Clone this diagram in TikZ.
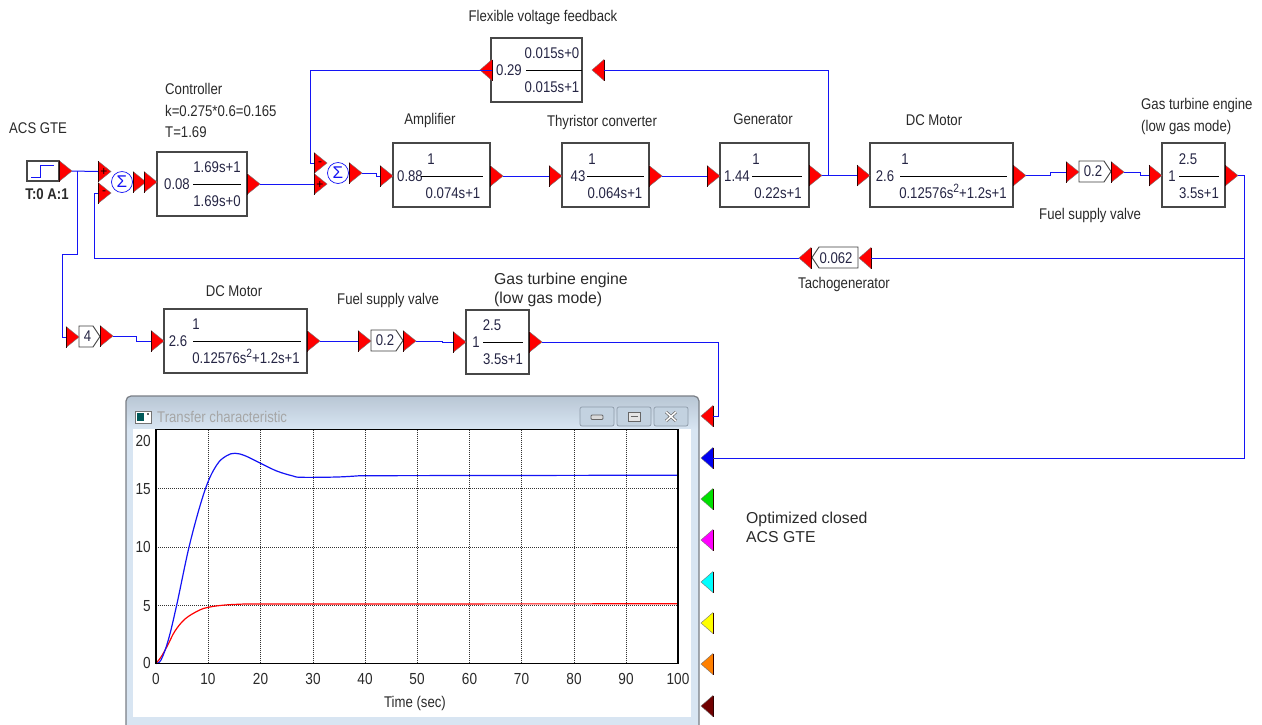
\documentclass[tikz,border=0pt]{standalone}
\usepackage{fontspec}
\setmainfont{Liberation Sans}
\newfontfamily\cond[FakeStretch=0.85]{Liberation Sans}
\usetikzlibrary{calc}
\definecolor{wireblue}{HTML}{1414F5}
\definecolor{txt}{HTML}{2A2A2A}
\definecolor{winedge}{HTML}{7A7F86}
\definecolor{winbg}{HTML}{D8E5F2}
\definecolor{wintop}{HTML}{B8C6D4}
\definecolor{btn}{HTML}{C3D2E0}
\definecolor{btnedge}{HTML}{8D9AA8}
\definecolor{pred}{HTML}{FF0000}
\definecolor{pblue}{HTML}{0000F0}
\definecolor{pgreen}{HTML}{00E000}
\definecolor{pmag}{HTML}{FF00FF}
\definecolor{pcyan}{HTML}{00FFFF}
\definecolor{pyel}{HTML}{FFFF00}
\definecolor{pora}{HTML}{FF8000}
\definecolor{pmar}{HTML}{700000}
\definecolor{basedark}{HTML}{300000}
\tikzset{
  wire/.style={draw=wireblue,line width=1pt},
  blk/.style={draw=black!72,line width=1.1pt,fill=white,inner sep=0pt,rectangle},
  lab/.style={font=\cond\fontsize{15.5}{16}\selectfont,text=txt,inner sep=0pt,text height=10.5pt,text depth=0pt},
  labw/.style={font=\fontsize{15.8}{16}\selectfont,text=txt,inner sep=0pt,text height=10.5pt,text depth=0pt},
  tick/.style={font=\cond\fontsize{16}{16}\selectfont,text=txt,inner sep=0pt,text height=10.5pt,text depth=0pt},
  val/.style={font=\cond\fontsize{15.5}{16}\selectfont,text=txt!88!blue,inner sep=0pt,text height=10.5pt,text depth=0pt},
  fracline/.style={draw=black,line width=0.9pt},
  griddot/.style={draw=black!80,line width=1pt,dash pattern=on 1pt off 1pt},
  frameplot/.style={draw=black,line width=1.2pt},
  sumring/.style={circle,draw=wireblue,fill=white,line width=0.7pt,minimum size=21pt,inner sep=0pt,text=wireblue,font=\fontsize{17}{17}\selectfont},
  winbtn/.style={draw=btnedge,fill=btn,line width=0.7pt,rounded corners=2pt},
  sgn/.style={font=\fontsize{12}{12}\selectfont,inner sep=0pt,text=black}
}
% right-pointing port: name, x of base, y of centre
\newcommand\portR[3]{%
  \fill[pred] (#2,#3-10.5) -- (#2+13,#3) -- (#2,#3+10.5) -- cycle;
  \draw[black!55,line width=0.4pt] (#2,#3-10.5) -- (#2+13,#3) -- (#2,#3+10.5);
  \draw[basedark,line width=0.8pt] (#2,#3-10.5) -- (#2,#3+10.5);
  \coordinate (#1) at (#2+13,#3);
  \coordinate (#1in) at (#2,#3);}
% left-pointing port: name, x of tip, y of centre, colour
\newcommand\portL[4]{%
  \fill[#4] (#2+12,#3-10.5) -- (#2,#3) -- (#2+12,#3+10.5) -- cycle;
  \draw[black!55,line width=0.4pt] (#2+12,#3-10.5) -- (#2,#3) -- (#2+12,#3+10.5);
  \draw[basedark,line width=0.8pt] (#2+12,#3-10.5) -- (#2+12,#3+10.5);
  \coordinate (#1) at (#2,#3);
  \coordinate (#1in) at (#2+12,#3);}
% block: name x1 y1 x2 y2
\newcommand\blockbox[5]{%
  \node[blk,minimum width={(#4-#2)*1pt},minimum height={(#5-#3)*1pt}] (#1) at ({(#2+#4)/2},{(#3+#5)/2}) {};}
% transfer text: name, gain x, gain, line x1, line x2, y of line, num x, num, den x, den
\newcommand\tf[9]{%
  \node[val] (#1g) at (#2,#6+0.5) {#3};
  \draw[fracline] (#4,#6) -- (#5,#6);
  \node[val] (#1n) at (#7,#6-16.5) {#8};
  \node[val] (#1d) at (#9,#6+17) {\tfden};}
\newcommand\gainR[6]{% name x1 x2 y1 y2 text
  \draw[black!75,line width=0.9pt,fill=white] (#2,#4) -- (#3-7,#4) -- (#3,{(#4+#5)/2}) -- (#3-7,#5) -- (#2,#5) -- cycle;
  \node[val] (#1) at ({(#2+#3)/2-2},{(#4+#5)/2}) {#6};}
\newcommand\sq{\raisebox{6pt}{\fontsize{12}{12}\selectfont 2}}
\begin{document}
\begin{tikzpicture}[x=1pt,y=-1pt]
\useasboundingbox (0,0) rectangle (1262,724);
\fill[white] (0,0) rectangle (1262,724);

% ---------- plot window
\begin{scope}
\clip (0,0) rectangle (1262,724);
\fill[winbg,rounded corners=5pt] (126,760) -- (126,396) -- (699,396) -- (699,760) -- cycle;
\begin{scope}
\clip[rounded corners=5pt] (126,760) -- (126,396) -- (699,396) -- (699,760) -- cycle;
\shade[top color=wintop,bottom color=winbg] (126,396) rectangle (699,429);
\end{scope}
\draw[winedge,line width=1.2pt,rounded corners=5pt] (126,760) -- (126,396) -- (699,396) -- (699,760);
\fill[white] (133,429) rectangle (691,717);
\end{scope}
% title bar
\draw[black!55,fill=white,line width=0.8pt] (135,411) rectangle (151,423);
\fill[teal!70!black] (137,413) rectangle (144,421);
\fill[black!60] (147,413) rectangle (149,415);
\node[lab,anchor=west,text=black!35] (wintitle) at (157,417) {Transfer characteristic};
\draw[winbtn] (580,407) rectangle (614,426);
\draw[winbtn] (617,407) rectangle (651,426);
\draw[winbtn] (654,407) rectangle (688,426);
\draw[black!60,fill=black!15,line width=0.8pt,rounded corners=1pt] (591,415) rectangle (603,419.5);
\draw[black!60,fill=black!10,line width=0.8pt] (628,412) rectangle (640,421);
\draw[black!60,line width=1pt] (630.5,416) -- (637.5,416);
\draw[black!55,line width=3pt] (666,412) -- (676,421) (676,412) -- (666,421);
\draw[white,line width=1.4pt] (666,412) -- (676,421) (676,412) -- (666,421);

% plot grid
\foreach \gx in {208,260.5,313,365,417,469.5,521.5,574,626}
  \draw[griddot] (\gx,429.5) -- (\gx,663);
\foreach \gy in {488,547,605}
  \draw[griddot] (156,\gy) -- (678,\gy);
% curves
\draw[pred,line width=1.2pt] plot[smooth,tension=0.6] coordinates {(156,663.5) (161.7,656) (168.3,644) (175,631) (185,619) (198.3,610.7) (208.3,607.3) (225,605) (245,604)} -- (678,603.8);
\draw[wireblue,line width=1.2pt] plot[smooth,tension=0.6] coordinates {(156,663.5) (161,660) (168.3,640) (176.7,605) (190,543) (205,490) (216.7,465) (226.7,455.7) (235,453.3) (245,455.7) (260,463) (276.7,471) (293,476) (301.7,477.3) (337,477) (360,475.7)} -- (678,475.2);
\draw[frameplot] (156,429.5) rectangle (678,663.5);
% axis ticks
\node[tick,anchor=east] (yt20) at (151,441) {20};
\node[tick,anchor=east] (yt15) at (151,489) {15};
\node[tick,anchor=east] (yt10) at (151,547) {10};
\node[tick,anchor=east] (yt5) at (151,606) {5};
\node[tick,anchor=east] (yt0) at (151,663) {0};
\node[tick] (xt0) at (156,679) {0};
\node[tick] (xt10) at (208,679) {10};
\node[tick] (xt20) at (260.5,679) {20};
\node[tick] (xt30) at (313,679) {30};
\node[tick] (xt40) at (365,679) {40};
\node[tick] (xt50) at (417,679) {50};
\node[tick] (xt60) at (469.5,679) {60};
\node[tick] (xt70) at (521.5,679) {70};
\node[tick] (xt80) at (574,679) {80};
\node[tick] (xt90) at (626,679) {90};
\node[tick] (xt100) at (678,679) {100};
\node[lab] (xaxis) at (415,702) {Time (sec)};

% ---------- scope inputs
\portL{scA}{701}{416}{pred}
\portL{scB}{701}{458}{pblue}
\portL{scC}{701}{499}{pgreen}
\portL{scD}{701}{540}{pmag}
\portL{scE}{701}{582}{pcyan}
\portL{scF}{701}{623}{pyel}
\portL{scG}{701}{664}{pora}
\portL{scH}{701}{706}{pmar}

% ---------- blocks
\blockbox{stepb}{27}{161}{59}{181}
\draw[wireblue,line width=1pt] (31,177) -- (40,177) -- (40,165.5) -- (54,165.5);
\blockbox{ctrl}{157}{152}{247}{216}
\blockbox{fb}{491}{38}{582}{102}
\blockbox{amp}{393}{143}{490}{207}
\blockbox{thy}{562}{143}{649}{207}
\blockbox{gen}{720}{143}{809}{207}
\blockbox{dcm}{870}{143}{1013}{207}
\blockbox{gte}{1162}{143}{1225}{207}
\blockbox{dcmb}{164}{309}{307}{373}
\blockbox{gteb}{466}{310}{529}{374}

% block text
\def\tfden{1.69s+0}\tf{ctrl}{177}{0.08}{193}{241}{184}{217}{1.69s+1}{217}
\def\tfden{0.015s+1}\tf{fb}{509}{0.29}{526}{582}{70}{552}{0.015s+0}{552}
\def\tfden{0.074s+1}\tf{amp}{410}{0.88}{421}{483}{176}{431}{1}{453}
\def\tfden{0.064s+1}\tf{thy}{578}{43}{587}{644}{176}{592}{1}{615}
\def\tfden{0.22s+1}\tf{gen}{737}{1.44}{752}{802}{176}{756}{1}{778}
\def\tfden{0.12576s\sq+1.2s+1}\tf{dcm}{885}{2.6}{900}{1007}{176}{905}{1}{953}
\def\tfden{3.5s+1}\tf{gte}{1172}{1}{1179}{1219}{176}{1188}{2.5}{1199}
\def\tfden{0.12576s\sq+1.2s+1}\tf{dcmb}{178}{2.6}{193}{301}{341}{196}{1}{246}
\def\tfden{3.5s+1}\tf{gteb}{476}{1}{483}{523}{342}{492}{2.5}{503}

% gains
\gainR{gA}{1079}{1111}{161}{182}{0.2}
\gainR{gB}{79}{100}{326}{347}{4}
\gainR{gC}{371}{403}{330}{351}{0.2}
\draw[black!75,line width=0.9pt,fill=white] (858,247) -- (819,247) -- (812,257.5) -- (819,268) -- (858,268) -- cycle;
\node[val] (gD) at (836,258) {0.062};

% ---------- ports
\portR{pstep}{59}{171}
\portL{fbo}{480}{70}{pred}
\portL{fbi}{592}{70}{pred}
\portR{sAa}{98}{171.5}
\portR{sAb}{98}{193}
\node[sumring] (sumA) at (122,182) {Σ};
\node[sgn] (sAplus) at (104,172) {+};
\node[sgn] (sAminus) at (104,193) {-};
\portR{sAo}{133}{182}
\portR{ctrli}{144}{182}
\portR{ctrlo}{247}{184}
\portR{sBa}{314}{163}
\portR{sBb}{314}{184}
\node[sumring] (sumB) at (338,173) {Σ};
\node[sgn] (sBminus) at (320,164) {-};
\node[sgn] (sBplus) at (320,185) {+};
\portR{sBo}{349}{173}
\portR{ampi}{380}{176}
\portR{ampo}{490}{176}
\portR{thyi}{549}{176}
\portR{thyo}{649}{176}
\portR{geni}{707}{176}
\portR{geno}{809}{175.5}
\portR{dcmi}{857}{175.5}
\portR{dcmo}{1013}{175.5}
\portR{gAi}{1066}{172}
\portR{gAo}{1111}{172}
\portR{gtei}{1149}{175.5}
\portR{gteo}{1225}{175.5}
\portL{tgi}{859}{258}{pred}
\portL{tgo}{799}{258}{pred}
\portR{gBi}{66}{337}
\portR{gBo}{100}{336}
\portR{dcmbi}{151}{341}
\portR{dcmbo}{307}{341}
\portR{gCi}{358}{341}
\portR{gCo}{403}{341}
\portR{gtebi}{453}{342}
\portR{gtebo}{529}{342}

% ---------- connectors
\draw[wire] (pstep) -- (sAain);
\draw[wire] (77,171) -- (77,254) -- (62,254) |- (gBiin);
\draw[wire] (gBo) -- ++(23,0) |- (dcmbiin);
\draw[wire] (dcmbo) -- (gCiin);
\draw[wire] (gCo) -- ++(26,0) |- (gtebiin);
\draw[wire] (gtebo) -| (718,416) -- (scAin);
\draw[wire] (ctrlo) -- (sBbin);
\draw[wire] (sBain) -- (310,163) |- (fboin);
\draw[wire] (828,175.5) |- (fbiin);
\draw[wire] (sBo) -- ++(14,0) |- (ampiin);
\draw[wire] (ampo) -- (thyiin);
\draw[wire] (thyo) -- (geniin);
\draw[wire] (geno) -- (dcmiin);
\draw[wire] (dcmo) -- ++(24,0) |- (gAiin);
\draw[wire] (gAo) -- ++(16,0) |- (gteiin);
\draw[wire] (gteo) -| (1244,458) -- (scBin);
\draw[wire] (1244,258) -- (tgiin);
\draw[wire] (tgo) -| (94,193) -- (sAbin);

% ---------- labels
\node[lab] (stepl) at (47,194) {\textbf{T:0 A:1}};
\node[lab] (lfb) at (543,16) {Flexible voltage feedback};
\node[lab,anchor=west] (lc1) at (165,89) {Controller};
\node[lab,anchor=west] (lc2) at (165,111) {k=0.275*0.6=0.165};
\node[lab,anchor=west] (lc3) at (165,132) {T=1.69};
\node[lab,anchor=west] (lacs) at (9,128) {ACS GTE};
\node[lab] (lamp) at (430,119) {Amplifier};
\node[lab] (lthy) at (602,121) {Thyristor converter};
\node[lab] (lgen) at (763,119) {Generator};
\node[lab] (ldc) at (934,120) {DC Motor};
\node[lab,anchor=west] (lgt1) at (1141,104) {Gas turbine engine};
\node[lab,anchor=west] (lgt2) at (1141,126) {(low gas mode)};
\node[lab,anchor=west] (lfv) at (1039,214) {Fuel supply valve};
\node[lab] (ltg) at (844,283) {Tachogenerator};
\node[lab] (ldcb) at (234,291) {DC Motor};
\node[lab,anchor=west] (lfvb) at (337,299) {Fuel supply valve};
\node[labw,anchor=west] (lgb1) at (494,279) {Gas turbine engine};
\node[labw,anchor=west] (lgb2) at (494,298) {(low gas mode)};
\node[labw,anchor=west] (lo1) at (746,518) {Optimized closed};
\node[labw,anchor=west] (lo2) at (746,537) {ACS GTE};
\end{tikzpicture}
\end{document}
